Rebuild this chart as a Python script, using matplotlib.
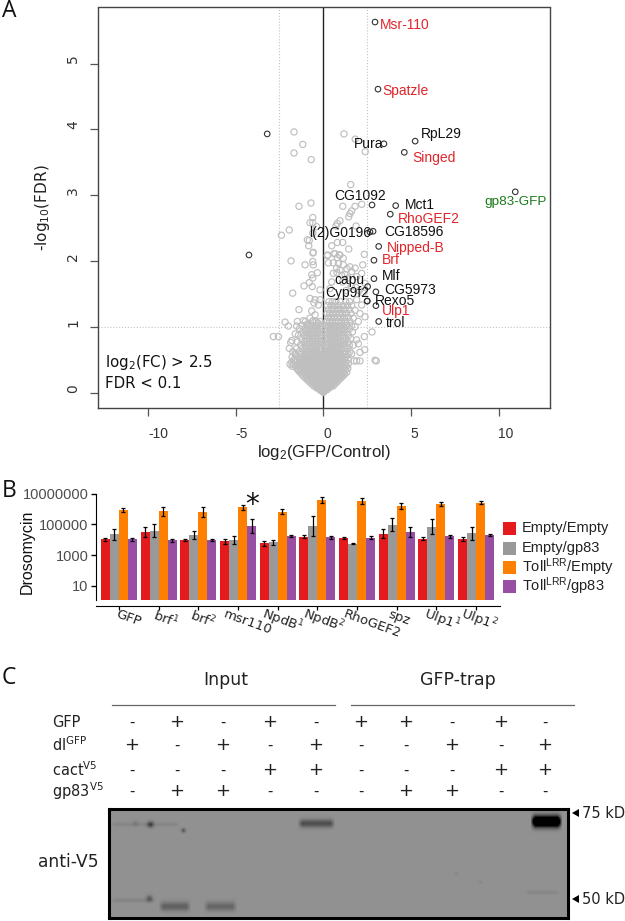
import numpy as np
import matplotlib
matplotlib.use("Agg")
import matplotlib.pyplot as plt
from matplotlib.patches import Rectangle, Polygon

plt.rcParams['font.family'] = ['DejaVu Sans']
plt.rcParams['mathtext.default'] = 'regular'

W, H = 625, 921

# ---------- Panel A data ----------
hit_genes = ['Msr-110','Spatzle','RpL29','Pura','Singed','gp83-GFP','CG1092','Mct1','RhoGEF2',
             'CG18596','l(2)G0196','Nipped-B','Brf','Mlf','capu','CG5973','Cyp9f2','Rexo5','Ulp1','trol','left1','left2']
hit_x = [2.95,3.12,5.24,3.46,4.62,10.95,2.78,4.13,3.82,2.84,2.66,3.16,2.89,2.89,2.53,3.0,2.51,2.5,3.0,3.16,-3.2,-4.24]
hit_y = [5.63,4.61,3.82,3.78,3.65,3.05,2.85,2.84,2.71,2.45,2.44,2.22,2.01,1.73,1.61,1.53,1.39,1.39,1.32,1.08,3.93,2.09]

gray_sparse = [
 (-1.67,3.96),(-1.17,3.77),(-1.67,3.64),(-0.69,3.54),(1.18,3.93),(1.82,3.85),(2.39,3.66),
 (1.56,3.16),(-1.39,2.83),(-0.70,2.88),(1.11,2.83),(2.19,2.86),(1.81,2.83),(1.62,2.76),(1.52,2.72),(1.45,2.67),
 (-0.6,2.66),(-0.76,2.58),(-0.6,2.58),(0.95,2.61),(0.8,2.57),(0.72,2.53),(-0.38,2.52),(1.87,2.53),(-2.39,2.39),
 (-1.94,2.47),(-0.91,2.32),(-0.8,2.31),(-0.6,2.42),(-0.83,2.23),(-0.57,2.13),(0.8,2.28),(1.11,2.28),(1.45,2.18),
 (0.48,2.23),(0.23,2.08),(0.67,2.11),(0.8,2.05),(2.34,2.1),(0.91,2.09),(1.14,2.04),
 (-1.84,2.0),(-1.04,1.94),(-0.6,1.99),(-0.57,1.94),(-0.59,2.12),(-0.66,1.79),(-0.34,1.82),(-0.6,1.74),(-0.8,1.67),
 (-1.1,1.62),(-0.63,1.61),(-0.19,1.56),(-1.75,1.51),(-0.76,1.43),(-0.47,1.41),(-0.19,1.41),(-0.53,1.36),(-0.28,1.33),
 (-1.39,1.26),(-0.66,1.24),(-0.47,1.18),(-0.76,1.13),(-1.14,1.09),(-1.48,1.08),(-2.18,1.07),(-1.99,1.01),(-1.52,1.01),
 (-0.95,1.03),(-0.57,1.09),(-0.28,1.05),
 (0.25,2.09),(0.61,2.11),(0.95,2.09),(0.29,1.97),(0.57,1.97),(0.86,1.96),(1.14,1.94),(0.76,1.89),(1.52,1.91),(1.81,1.89),
 (2.25,1.94),(2.19,1.81),(0.57,1.81),(1.24,1.79),(1.62,1.84),(1.9,1.76),(2.38,1.66),(0.48,1.68),(0.38,1.58),
 (0.78,1.82),(0.95,1.86),(1.05,1.78),(1.35,1.88),(1.42,1.74),(1.1,1.68),(1.6,1.62),(1.85,1.6),(2.05,1.55),(1.3,1.55),
 (2.28,1.51),(1.9,1.41),(2.19,1.33),(2.38,1.15),(2.09,1.2),(2.0,1.08),(1.81,1.25),(1.71,1.13),
 (-2.85,0.85),(-2.56,0.85),(-1.8,0.79),(-1.86,0.76),(-1.94,0.67),(-1.6,0.89),(-1.9,0.43),(-1.46,0.35),(-1.61,0.59),
 (-1.61,0.49),(2.78,0.92),(2.95,0.49),(3.02,0.48),(2.34,0.85),(2.0,0.74),(2.36,0.65),(2.09,0.61),(1.9,0.48),(2.09,0.48),
 (1.75,0.48),(1.9,0.8),(1.62,0.59),(1.43,0.44),(1.81,1.0),
]

gray_levels = [1.38,1.32,1.26,1.2,1.14,1.08,1.02,0.97,0.92,0.87,0.82,0.77,0.72,0.67,0.62,0.58,0.54,0.5,0.46,0.43,0.4,0.37,
               0.34,0.31,0.28,0.25,0.22,0.19,0.16,0.13,0.1,0.07,0.04,0.02]
gray_rows = [
 [0.32,0.52,0.72,0.98,1.28,1.5],
 [0.24,0.44,0.66,0.88,1.12,1.38,1.62],
 [0.3,0.5,0.62,0.8,1.0,1.22,1.48],
 [0.22,0.36,0.54,0.72,0.92,1.1,1.32,1.58],
 [0.28,0.44,0.6,0.8,0.98,1.2,1.42],
 [-1.02,-0.62,-0.4,-0.2,0.2,0.36,0.52,0.7,0.86,1.04,1.28,1.52],
 [-1.22,-0.86,-0.7,-0.48,-0.32,-0.16,0.14,0.3,0.46,0.62,0.78,0.96,1.14,1.36,1.62],
 [-1.35,-1.05,-0.9,-0.74,-0.56,-0.38,-0.22,0.22,0.38,0.54,0.7,0.88,1.04,1.24,1.5],
 [-1.18,-0.98,-0.82,-0.64,-0.46,-0.3,-0.14,0.14,0.3,0.46,0.62,0.78,0.94,1.12,1.34,1.66],
 [-1.42,-1.08,-0.9,-0.74,-0.56,-0.38,-0.22,0.2,0.36,0.52,0.68,0.86,1.02,1.2,1.44],
 [-1.26,-1.0,-0.82,-0.66,-0.48,-0.32,-0.14,0.12,0.28,0.44,0.6,0.76,0.92,1.1,1.3,1.56],
 [-1.48,-1.12,-0.92,-0.74,-0.58,-0.4,-0.24,-0.1,0.2,0.36,0.52,0.68,0.84,1.0,1.18,1.4],
 [-1.3,-1.04,-0.84,-0.66,-0.5,-0.32,-0.16,0.14,0.28,0.44,0.6,0.76,0.92,1.08,1.26,1.48,1.72],
 [-1.52,-1.2,-0.98,-0.78,-0.6,-0.42,-0.26,-0.1,0.2,0.36,0.52,0.68,0.84,1.02,1.18,1.36],
 [-1.74,-1.38,-1.1,-0.9,-0.7,-0.54,-0.36,-0.18,0.12,0.28,0.44,0.6,0.76,0.92,1.1,1.28,1.52],
 [-1.55,-1.26,-1.02,-0.84,-0.64,-0.46,-0.3,-0.14,0.2,0.36,0.52,0.68,0.84,1.0,1.2,1.42],
 [-1.78,-1.42,-1.14,-0.94,-0.76,-0.58,-0.4,-0.22,-0.08,0.1,0.26,0.44,0.6,0.76,0.92,1.1,1.3],
 [-1.68,-1.48,-1.28,-1.06,-0.88,-0.68,-0.5,-0.34,-0.16,0.02,0.18,0.34,0.5,0.68,0.84,1.0,1.2,1.42],
 [-1.8,-1.58,-1.38,-1.18,-0.98,-0.8,-0.62,-0.44,-0.26,-0.1,0.08,0.24,0.42,0.58,0.74,0.92,1.08,1.28],
 [-1.72,-1.5,-1.3,-1.1,-0.9,-0.72,-0.54,-0.36,-0.18,-0.02,0.16,0.32,0.5,0.66,0.82,1.0,1.2],
 [-1.78,-1.58,-1.4,-1.2,-1.02,-0.84,-0.64,-0.46,-0.28,-0.1,0.06,0.24,0.4,0.58,0.74,0.9,1.08,1.32],
 [-1.52,-1.32,-1.12,-0.94,-0.76,-0.56,-0.38,-0.2,-0.04,0.14,0.32,0.48,0.66,0.82,1.0,1.18,1.4],
 [-1.42,-1.24,-1.04,-0.86,-0.68,-0.48,-0.3,-0.14,0.04,0.22,0.4,0.56,0.74,0.9,1.08,1.26],
 [-1.34,-1.16,-0.98,-0.8,-0.6,-0.42,-0.24,-0.08,0.12,0.3,0.46,0.64,0.82,0.98,1.16,1.34],
 [-1.22,-1.06,-0.88,-0.7,-0.52,-0.34,-0.16,0.02,0.2,0.38,0.56,0.72,0.9,1.08,1.22],
 [-1.14,-0.96,-0.8,-0.62,-0.44,-0.26,-0.1,0.08,0.26,0.44,0.62,0.8,0.96,1.12],
 [-1.02,-0.86,-0.68,-0.52,-0.36,-0.18,-0.02,0.16,0.34,0.52,0.68,0.84,1.0],
 [-0.9,-0.74,-0.58,-0.42,-0.26,-0.1,0.06,0.24,0.4,0.56,0.72,0.88],
 [-0.78,-0.62,-0.46,-0.3,-0.16,0.0,0.14,0.3,0.46,0.62,0.78],
 [-0.66,-0.5,-0.36,-0.2,-0.06,0.08,0.22,0.36,0.5,0.66],
 [-0.54,-0.4,-0.26,-0.12,0.02,0.16,0.3,0.44,0.56],
 [-0.38,-0.26,-0.14,-0.02,0.1,0.22,0.34],
 [-0.2,-0.1,0.0,0.1,0.2],
 [-0.08,0.06],
]

# the dense core of the funnel, where the rings merge into a solid patch
core_levels = [0.6,0.55,0.5,0.47,0.44,0.41,0.38,0.35,0.32,0.29,0.26,0.23,0.2,0.175,0.15,0.125,0.1,0.08,0.06,0.03,0.0]
core_rows = [
 [-0.95,-0.55,-0.3,0.08,0.32,0.6,0.95],
 [-0.98,-0.72,-0.42,-0.18,0.1,0.3,0.46,0.72,1.02],
 [-1.0,-0.76,-0.56,-0.3,-0.12,0.12,0.32,0.54,0.78,1.0],
 [-0.9,-0.66,-0.44,-0.22,0.0,0.22,0.44,0.66,0.9],
 [-0.84,-0.6,-0.36,-0.14,0.1,0.34,0.58,0.82],
 [-0.92,-0.68,-0.46,-0.24,-0.02,0.24,0.46,0.7,0.94],
 [-0.8,-0.58,-0.34,-0.12,0.12,0.36,0.58,0.8],
 [-0.86,-0.66,-0.44,-0.2,0.04,0.26,0.5,0.72,0.92],
 [-0.72,-0.5,-0.3,-0.06,0.18,0.4,0.6,0.84],
 [-0.78,-0.58,-0.36,-0.12,0.12,0.34,0.54,0.76],
 [-0.7,-0.48,-0.26,-0.04,0.18,0.4,0.6],
 [-0.6,-0.4,-0.2,0.02,0.24,0.44,0.64],
 [-0.5,-0.3,-0.08,0.12,0.32,0.52],
 [-0.56,-0.36,-0.16,0.04,0.24,0.44,0.6],
 [-0.42,-0.22,-0.02,0.18,0.38],
 [-0.46,-0.28,-0.08,0.1,0.28,0.46],
 [-0.3,-0.14,0.04,0.2,0.36],
 [-0.3,-0.16,-0.04,0.1,0.24],
 [-0.14,-0.02,0.12],
 [-0.05,0.05],
 [0.0],
]

x_ticks = [-10,-5,0,5,10]
y_ticks = [0,1,2,3,4,5]

# ---------- Panel B data ----------
genotypes = ['GFP','brf$^{\\mathit{1}}$','brf$^{\\mathit{2}}$','msr110','NpdB$^{\\mathit{1}}$','NpdB$^{\\mathit{2}}$',
             'RhoGEF2','spz','Ulp1$^{\\mathit{1}}$','Ulp1$^{\\mathit{2}}$']
empty_empty = [4.02,4.5,3.98,3.89,3.76,4.2,4.11,4.39,4.07,4.07]
empty_gp83  = [4.35,4.59,4.3,3.98,3.83,4.89,3.74,4.98,4.85,4.41]
toll_empty  = [5.93,5.85,5.8,6.11,5.83,6.59,6.54,6.2,6.33,6.41]
toll_gp83   = [4.04,3.96,3.98,4.91,4.24,4.15,4.13,4.5,4.22,4.3]
err_empty_empty = [.12,.3,.05,.15,.18,.12,.04,.3,.08,.13]
err_empty_gp83  = [.35,.42,.25,.28,.18,.65,.05,.42,.5,.4]
err_toll_empty  = [.12,.3,.3,.17,.18,.17,.18,.2,.12,.1]
err_toll_gp83   = [.1,.08,.06,.45,.05,.12,.1,.3,.08,.04]
bar_colors = ['#E41A1C','#999999','#FF7F00','#984EA3']
legend_labels = ['Empty/Empty','Empty/gp83','Toll$^{LRR}$/Empty','Toll$^{LRR}$/gp83']

# ---------- Panel C data ----------
row_names = ['GFP','dl$^{GFP}$','cact$^{V5}$','gp83$^{V5}$']
row_gfp  = '-+-+-++-+-'
row_dl   = '+-+-+--+-+'
row_cact = '---++---++'
row_gp83 = '-++---++--'

def axes_px(x0, y0, x1, y1):
    return fig.add_axes([x0/W, 1-y1/H, (x1-x0)/W, (y1-y0)/H])

fig = plt.figure(figsize=(W/100, H/100), dpi=100)
sans = 'Liberation Sans'

# ---------- Panel A ----------
axA = axes_px(98, 7.5, 550, 408.3)
axA.set_xlim((98-323.3)/17.53, (550-323.3)/17.53)
axA.set_ylim((392.5-408.3)/65.8, (392.5-7.5)/65.8)
axA.axvline(0, color='#222222', lw=1, zorder=1)
for v in (-2.5, 2.5):
    axA.axvline(v, color='#c4c4c4', lw=0.8, ls=':', zorder=1)
axA.axhline(1, color='#c4c4c4', lw=0.8, ls=':', zorder=1)
gx = [p[0] for p in gray_sparse] + [x for row in gray_rows + core_rows for x in row]
gy = [p[1] for p in gray_sparse] + [l for l, row in zip(gray_levels + core_levels, gray_rows + core_rows) for _ in row]
axA.scatter(gx, gy, s=20, facecolors='none', edgecolors='#bfbfbf', linewidths=0.85, zorder=2)
axA.scatter(hit_x, hit_y, s=16, facecolors='none', edgecolors='#333333', linewidths=0.8, zorder=3)
axA.set_xticks(x_ticks)
axA.set_yticks(y_ticks)
axA.set_xticklabels([])
axA.set_yticklabels([])
axA.tick_params(axis='both', length=6, width=0.9, color='#555555')
for s in axA.spines.values():
    s.set_color('#444444'); s.set_linewidth(1)

# ---------- Panel B ----------
axB = axes_px(96, 493.7, 500, 605.7)
axB.set_yscale('log')
axB.set_ylim(10**(1-(605.7-585.7)/15.33), 1e7)
axB.set_xlim((96-119)/39.67, (500-119)/39.67)
bar_w = 9/39.67
base = 10**0.067
series = [(empty_empty, err_empty_empty), (empty_gp83, err_empty_gp83), (toll_empty, err_toll_empty), (toll_gp83, err_toll_gp83)]
for j, (vals, errs) in enumerate(series):
    xs = np.arange(len(vals)) + (j-1.5)*bar_w
    v = np.array(vals); e = np.array(errs)
    axB.bar(xs, 10**v - base, bottom=base, width=bar_w, color=bar_colors[j], linewidth=0, zorder=2)
    axB.vlines(xs, 10**(v-e), 10**(v+e), color='black', lw=0.9, zorder=3)
    for yy in (10**(v-e), 10**(v+e)):
        axB.plot(xs, yy, ls='none', marker='_', ms=2.6, mew=0.9, color='black', zorder=3)
axB.set_yticks([10,1000,100000,10000000])
axB.set_yticklabels(['10','1000','100000','10000000'], family=sans, fontsize=10.5, color='#4d4d4d')
axB.minorticks_off()
axB.tick_params(axis='y', length=3.5, width=1, pad=2)
axB.set_xticks(range(len(genotypes)))
axB.set_xticklabels([])
axB.tick_params(axis='x', length=3, width=0.9)
axB.spines['top'].set_visible(False)
axB.spines['right'].set_visible(False)
axB.spines['left'].set_bounds(base, 1e7)
axB.patch.set_alpha(0)

# ---------- Overlay (texts, panel C frame) ----------
ov = fig.add_axes([0, 0, 1, 1])
ov.set_xlim(0, W); ov.set_ylim(H, 0); ov.axis('off'); ov.patch.set_alpha(0)

for txt, y in (('A', 11), ('B', 491), ('C', 678)):
    ov.text(2, y, txt, fontsize=16.5, family='Open Sans', va='center', ha='left', color='#111111')

for val, px_ in zip(x_ticks, (158, 242, 327, 414, 506)):
    ov.text(px_, 434, str(val), family=sans, fontsize=10, ha='center', va='center', color='#333333')
for val, py_ in zip(y_ticks, (389, 323, 257, 191, 125, 59)):
    ov.text(73, py_, str(val), fontsize=10, ha='center', va='center', rotation=90, color='#333333')

labels_A = [('Msr-110',380,25,'#e0262b'),('Spatzle',382,91,'#e0262b'),('Pura',354,144,'#111111'),
            ('RpL29',421,134,'#111111'),('Singed',412,158,'#e0262b'),('gp83-GFP',484,202,'#1a7a1a'),
            ('CG1092',334,196,'#111111'),('Mct1',405,205,'#111111'),('RhoGEF2',398,219,'#e0262b'),
            ('l(2)G0196',309,233,'#111111'),('CG18596',384,232,'#111111'),('Nipped-B',387,248,'#e0262b'),
            ('Brf',382,260,'#e0262b'),('Mlf',382,276,'#111111'),('capu',334,280,'#111111'),
            ('CG5973',384,290,'#111111'),('Cyp9f2',325,293,'#111111'),('Rexo5',375,301,'#111111'),
            ('Ulp1',382,311,'#e0262b'),('trol',386,323,'#111111')]
for name, x, y, c in labels_A:
    ov.text(x, y, name, family=sans, fontsize=10 if name != 'gp83-GFP' else 9.7, color=c, va='center', ha='left')

ov.text(324, 452, 'log$_{2}$(GFP/Control)', family=sans, fontsize=12, ha='center', va='center', color='#222222')
ov.text(43, 208, '-log$_{10}$(FDR)', fontsize=11, ha='center', va='center', rotation=90, color='#222222')
ov.text(105, 362, 'log$_{2}$(FC) > 2.5', fontsize=10.8, ha='left', va='center', color='#111111')
ov.text(105, 383, 'FDR < 0.1', fontsize=10.8, ha='left', va='center', color='#111111')

ov.text(27, 552, 'Drosomycin', family=sans, fontsize=11.5, rotation=90, ha='center', va='center', color='#111111')
ov.text(252, 505, '*', fontsize=20, ha='center', va='center', color='#111111')
for lab, x0 in zip(genotypes, (116, 154, 191, 224, 262, 303, 344, 389, 424, 461)):
    ov.text(x0, 614, lab, fontsize=9.5, rotation=-20, rotation_mode='anchor', ha='left', va='center', color='#222222')
for y, c, lab in zip((528, 548, 567, 586), bar_colors, legend_labels):
    ov.add_patch(Rectangle((503, y-6.5), 13, 13, color=c, lw=0))
    ov.text(522, y, lab, family=sans, fontsize=10.5, va='center', ha='left', color='#222222')

ov.text(226, 680, 'Input', fontsize=12.5, ha='center', va='center', color='#222222')
ov.text(458, 680, 'GFP-trap', fontsize=12.5, ha='center', va='center', color='#222222')
ov.plot([112, 335], [705, 705], color='#666666', lw=0.9)
ov.plot([351, 574], [705, 705], color='#666666', lw=0.9)

lanes = [132,177,223,270,316,361,406,452,501,545]
for rname, ry, states in zip(row_names, (722, 745, 770, 791), (row_gfp, row_dl, row_cact, row_gp83)):
    ov.text(52, ry, rname, fontsize=10.5, ha='left', va='center', color='#222222')
    for lx, st in zip(lanes, states):
        ov.text(lx, ry, st, fontsize=13 if st == '+' else 10.5, ha='center', va='center', color='#222222')

ov.text(68, 862, 'anti-V5', fontsize=12.3, ha='center', va='center', color='#222222')
ov.add_patch(Polygon([[572, 813], [579, 809], [579, 817]], color='black', lw=0))
ov.add_patch(Polygon([[572, 899], [579, 895], [579, 903]], color='black', lw=0))
ov.text(582, 813, '75 kD', fontsize=10.5, ha='left', va='center', color='#222222')
ov.text(582, 899, '50 kD', fontsize=10.5, ha='left', va='center', color='#222222')

# ---------- Blot ----------
blot_bands = [  # x0, x1, y, half-height, darkness (pixel coordinates of the scan)
    (297,335,823,4.0,0.26),(530,562,821,5.5,1.0),(110,180,824,2.0,0.045),(203,237,906,4.5,0.17),
    (158,191,906,4.5,0.19),(110,156,900,2.0,0.05),(524,560,892,2.0,0.04),
]
blot_spots = [(150,824,3.2,0.28),(183,830,2.2,0.22),(149,898,3.2,0.2),(135,823,3,0.06),(456,873,1.8,0.05),(480,882,1.8,0.04)]
axC = axes_px(109, 809, 568, 918)
px = np.arange(109, 568)
py = np.arange(809, 918)
gxx, gyy = np.meshgrid(px, py)
img = np.full(gxx.shape, 0.57)
for x0, x1, yc, hh, d in blot_bands:
    edge = np.clip((gxx-x0)/5, 0, 1)*np.clip((x1-gxx)/5, 0, 1)
    img = img - d*edge*np.exp(-((gyy-yc)/hh)**2)
for xc, yc, r, d in blot_spots:
    img = img - d*np.exp(-(((gxx-xc)**2+(gyy-yc)**2)/r**2))
axC.imshow(np.clip(img, 0, 1), cmap='gray', vmin=0, vmax=1, aspect='auto',
           extent=(109, 568, 918, 809), interpolation='bilinear')
axC.set_xticks([]); axC.set_yticks([])
for s in axC.spines.values():
    s.set_linewidth(2.2); s.set_color('black')

fig.savefig('out.png', dpi=100)
